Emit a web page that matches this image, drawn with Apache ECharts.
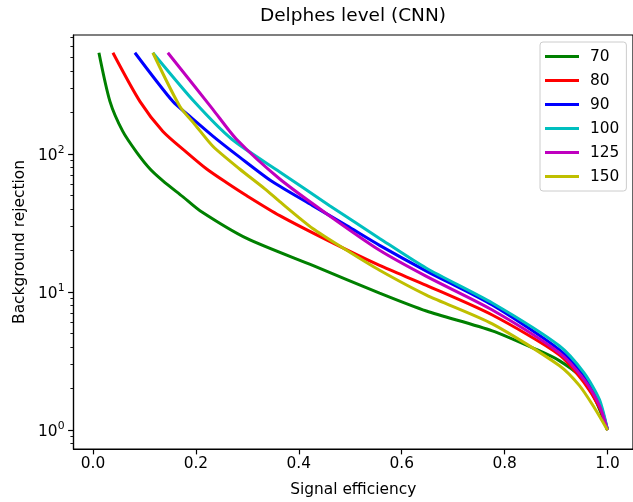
<!DOCTYPE html>
<html>
<head>
<meta charset="utf-8">
<script src="https://cdn.jsdelivr.net/npm/echarts@6/dist/echarts.min.js"></script>
<style>
html,body{margin:0;padding:0;background:#fff;}
#chart{width:633px;height:502px;}
</style>
</head>
<body>
<div id="chart"></div>
<script>
// ---- data (signal efficiency, background rejection) ----
const seriesNames = ['70', '80', '90', '100', '125', '150'];

const eff70 = [0.0116, 0.033, 0.058, 0.085, 0.111, 0.136, 0.175, 0.208, 0.299, 0.427, 0.557, 0.648, 0.776, 0.867, 0.906, 0.945, 0.974, 0.989, 1.0];
const rej70 = [542, 241, 146, 103, 78, 64, 49, 38.9, 24.5, 15.6, 9.84, 7.30, 5.24, 3.76, 3.19, 2.49, 1.73, 1.28, 1.0];

const eff80 = [0.0388, 0.0912, 0.136, 0.182, 0.221, 0.260, 0.299, 0.363, 0.460, 0.557, 0.648, 0.776, 0.906, 0.954, 0.984, 1.0];
const rej80 = [542, 241, 146, 103, 78, 62, 49.9, 35.8, 23.3, 15.6, 11.2, 6.83, 3.52, 2.22, 1.46, 1.0];

const eff90 = [0.0815, 0.155, 0.188, 0.233, 0.285, 0.349, 0.427, 0.493, 0.557, 0.648, 0.776, 0.906, 0.954, 0.984, 1.0];
const rej90 = [542, 241, 188, 135, 95, 62.9, 42.3, 30.3, 21.8, 14.2, 8.06, 3.83, 2.49, 1.59, 1.0];

const eff100 = [0.1164, 0.198, 0.270, 0.363, 0.460, 0.557, 0.648, 0.776, 0.906, 0.954, 0.984, 1.0];
const rej100 = [542, 237, 128, 74.2, 42.3, 24.5, 14.9, 8.34, 4.09, 2.61, 1.67, 1.0];

const eff125 = [0.1455, 0.233, 0.279, 0.363, 0.454, 0.557, 0.648, 0.776, 0.906, 0.954, 0.984, 1.0];
const rej125 = [542, 211, 128, 66, 37, 20.1, 13.0, 7.42, 3.64, 2.33, 1.51, 1.0];

const eff150 = [0.1164, 0.169, 0.198, 0.233, 0.285, 0.334, 0.363, 0.427, 0.493, 0.557, 0.648, 0.776, 0.906, 0.945, 0.974, 1.0];
const rej150 = [542, 221, 164, 114, 78, 56, 45.2, 28.9, 20.1, 14.4, 9.52, 5.89, 2.94, 2.11, 1.46, 1.0];

const xTicks = [0.0, 0.2, 0.4, 0.6, 0.8, 1.0];
const yTicks = [1, 10, 100];
const yMinorTicks = [0.8, 0.9, 2, 3, 4, 5, 6, 7, 8, 9, 20, 30, 40, 50, 60, 70, 80, 90, 200, 300, 400, 500, 600, 700];

const colors = ['#008000', '#ff0000', '#0000ff', '#00bfbf', '#bf00bf', '#bfbf00'];
const effs = [eff70, eff80, eff90, eff100, eff125, eff150];
const rejs = [rej70, rej80, rej90, rej100, rej125, rej150];

// ---- chart ----
const FONT = 'DejaVu Sans';
const FS = 15.4;
const X_MIN = -0.0378, X_MAX = 1.0494;
const Y_MIN = 0.730, Y_MAX = 729;

const chart = echarts.init(document.getElementById('chart'), null, {renderer: 'canvas'});

const series = seriesNames.map((name, i) => ({
  name: name,
  type: 'line',
  xAxisIndex: 0,
  yAxisIndex: 0,
  symbol: 'none',
  smooth: 0.25,
  lineStyle: {width: 3, color: colors[i]},
  itemStyle: {color: colors[i]},
  data: effs[i].map((x, k) => [x, rejs[i][k]])
}));

const option = {
  animation: false,
  backgroundColor: '#ffffff',
  title: {
    text: 'Delphes level (CNN)',
    left: 353,
    top: 7,
    padding: 0,
    textAlign: 'center',
    textStyle: {fontFamily: FONT, fontSize: 18.5, fontWeight: 'normal', color: '#000'}
  },
  legend: {
    orient: 'vertical',
    left: 540,
    top: 42,
    padding: [6, 7, 6, 5],
    itemGap: 7,
    itemWidth: 34,
    itemHeight: 3,
    icon: 'rect',
    backgroundColor: 'rgba(255,255,255,0.8)',
    borderColor: '#cccccc',
    borderWidth: 1,
    borderRadius: 3,
    textStyle: {fontFamily: FONT, fontSize: FS, color: '#000', lineHeight: 17, padding: [0, 0, 0, 6]},
    data: seriesNames
  },
  grid: {
    left: 73.5,
    top: 35,
    width: 560.5,
    height: 417,
    show: true,
    borderColor: '#000',
    borderWidth: 1.2,
    backgroundColor: 'transparent'
  },
  xAxis: [{
    type: 'value',
    min: X_MIN,
    max: X_MAX,
    name: 'Signal efficiency',
    nameLocation: 'middle',
    nameGap: 33,
    nameTextStyle: {fontFamily: FONT, fontSize: FS, color: '#000'},
    axisLine: {show: true, onZero: false, lineStyle: {color: '#000', width: 1.2}},
    axisTick: {show: true, inside: false, length: 5.4, customValues: xTicks, lineStyle: {color: '#000', width: 1.2}},
    axisLabel: {
      show: true, margin: 7, customValues: xTicks,
      fontFamily: FONT, fontSize: FS, color: '#000',
      formatter: v => v.toFixed(1)
    },
    splitLine: {show: false}
  }],
  yAxis: [{
    type: 'log',
    logBase: 10,
    min: Y_MIN,
    max: Y_MAX,
    position: 'left',
    name: 'Background rejection',
    nameLocation: 'middle',
    nameGap: 45,
    nameTextStyle: {fontFamily: FONT, fontSize: FS, color: '#000'},
    axisLine: {show: true, onZero: false, lineStyle: {color: '#000', width: 1.2}},
    axisTick: {show: true, inside: false, length: 5.4, customValues: yTicks, lineStyle: {color: '#000', width: 1.2}},
    axisLabel: {
      show: true, margin: 9, customValues: yTicks,
      fontFamily: FONT, fontSize: FS, color: '#000',
      formatter: v => '{b|10}{s|' + Math.round(Math.log10(v)) + '}',
      rich: {
        b: {fontFamily: FONT, fontSize: FS, color: '#000', lineHeight: 19, verticalAlign: 'bottom'},
        s: {fontFamily: FONT, fontSize: 10.8, color: '#000', lineHeight: 13, verticalAlign: 'top'}
      }
    },
    splitLine: {show: false},
    minorTick: {show: false}
  }, {
    type: 'log',
    logBase: 10,
    min: Y_MIN,
    max: Y_MAX,
    position: 'left',
    offset: 0,
    axisLine: {show: false, onZero: false},
    axisTick: {show: true, inside: false, length: 3.1, customValues: yMinorTicks, lineStyle: {color: '#000', width: 0.9}},
    axisLabel: {show: false},
    splitLine: {show: false}
  }],
  series: series
};

chart.setOption(option);
</script>
</body>
</html>
